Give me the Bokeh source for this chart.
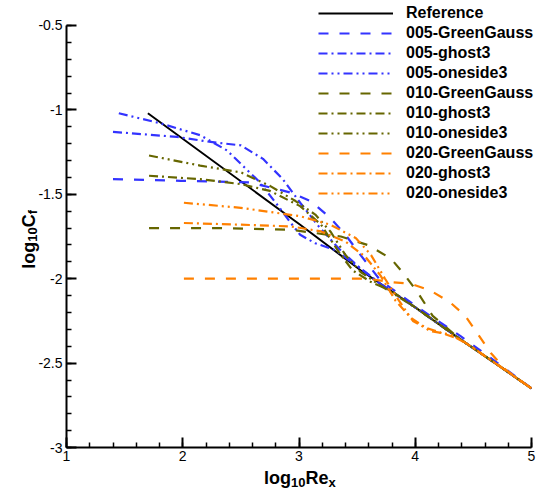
import math
from bokeh.plotting import figure
from bokeh.models import Range1d, Legend, LegendItem, Label, FixedTicker
from bokeh.embed import file_html
from bokeh.resources import INLINE

# ---------------- data ----------------
ref_x = [1.70, 3.01, 3.53, 4.00, 4.39, 5.00]
ref_y = [-1.02, -1.68, -1.95, -2.17, -2.36, -2.65]

gg005_x = [1.40, 1.98, 2.58, 2.93, 3.10, 3.27, 3.40, 3.53, 3.70, 4.00, 4.39, 4.73, 5.00]
gg005_y = [-1.41, -1.42, -1.43, -1.49, -1.54, -1.64, -1.74, -1.86, -2.01, -2.16, -2.34, -2.51, -2.65]

gh005_x = [1.40, 1.95, 2.24, 2.50, 2.69, 2.86, 3.01, 3.17, 3.34, 3.53, 3.70, 4.00, 4.39, 4.73, 5.00]
gh005_y = [-1.13, -1.16, -1.19, -1.21, -1.29, -1.41, -1.55, -1.69, -1.82, -1.94, -2.03, -2.17, -2.36, -2.52, -2.65]

os005_x = [1.45, 1.81, 2.15, 2.38, 2.50, 2.65, 2.80, 2.93, 3.01, 3.14, 3.31, 3.53, 3.70, 4.00, 4.39, 4.73, 5.00]
os005_y = [-1.02, -1.08, -1.15, -1.24, -1.32, -1.42, -1.55, -1.67, -1.74, -1.79, -1.83, -1.94, -2.03, -2.17, -2.36, -2.52, -2.65]

gg010_x = [1.71, 2.32, 2.93, 3.36, 3.59, 3.79, 3.90, 4.02, 4.15, 4.39, 4.73, 5.00]
gg010_y = [-1.70, -1.70, -1.71, -1.75, -1.80, -1.88, -1.97, -2.08, -2.22, -2.36, -2.52, -2.65]

gh010_x = [1.71, 2.15, 2.50, 2.75, 3.01, 3.19, 3.34, 3.46, 3.62, 3.79, 4.00, 4.39, 4.73, 5.00]
gh010_y = [-1.39, -1.41, -1.44, -1.48, -1.57, -1.68, -1.84, -1.95, -2.02, -2.07, -2.17, -2.36, -2.52, -2.65]

os010_x = [1.71, 2.15, 2.50, 2.75, 2.97, 3.14, 3.27, 3.40, 3.53, 3.70, 4.00, 4.39, 4.73, 5.00]
os010_y = [-1.27, -1.33, -1.37, -1.45, -1.54, -1.62, -1.72, -1.86, -1.96, -2.04, -2.17, -2.36, -2.52, -2.65]

gg020_x = [2.01, 3.01, 3.59, 3.79, 3.96, 4.13, 4.30, 4.43, 4.54, 4.65, 4.78, 5.00]
gg020_y = [-2.00, -2.00, -2.00, -2.02, -2.03, -2.07, -2.14, -2.22, -2.33, -2.44, -2.54, -2.65]

gh020_x = [2.01, 2.50, 2.93, 3.19, 3.40, 3.57, 3.70, 3.83, 3.96, 4.09, 4.22, 4.39, 4.73, 5.00]
gh020_y = [-1.67, -1.68, -1.69, -1.72, -1.78, -1.87, -1.98, -2.13, -2.23, -2.29, -2.32, -2.36, -2.52, -2.65]

os020_x = [2.01, 2.50, 3.01, 3.27, 3.49, 3.62, 3.74, 3.86, 3.98, 4.13, 4.30, 4.48, 4.73, 5.00]
os020_y = [-1.55, -1.58, -1.63, -1.68, -1.76, -1.86, -2.00, -2.13, -2.25, -2.31, -2.33, -2.40, -2.52, -2.65]

series_names = ["Reference", "005-GreenGauss", "005-ghost3", "005-oneside3",
                "010-GreenGauss", "010-ghost3", "010-oneside3",
                "020-GreenGauss", "020-ghost3", "020-oneside3"]

x_ticks = [1, 2, 3, 4, 5]
x_tick_labels = ["1", "2", "3", "4", "5"]
y_ticks = [-3, -2.5, -2, -1.5, -1, -0.5]
y_tick_labels = ["-3", "-2.5", "-2", "-1.5", "-1", "-0.5"]

# ---------------- styles ----------------
BLUE = "#3333ff"
OLIVE = "#666600"
ORANGE = "#ff8000"
DASH = "10 11"
DASHDOT = "9 4 2 4"
DASHDOTDOT = "9 4 2 4 2 4"
LW = 2.2

series = [
    (ref_x, ref_y, "black", "solid"),
    (gg005_x, gg005_y, BLUE, DASH),
    (gh005_x, gh005_y, BLUE, DASHDOT),
    (os005_x, os005_y, BLUE, DASHDOTDOT),
    (gg010_x, gg010_y, OLIVE, DASH),
    (gh010_x, gh010_y, OLIVE, DASHDOT),
    (os010_x, os010_y, OLIVE, DASHDOTDOT),
    (gg020_x, gg020_y, ORANGE, DASH),
    (gh020_x, gh020_y, ORANGE, DASHDOT),
    (os020_x, os020_y, ORANGE, DASHDOTDOT),
]

# frame covers the whole canvas; x=1 at px 66, x=5 at px 531; y=-0.5 at px 25, y=-3 at px 447
PX_PER_X = 116.25
PX_PER_Y = 169.0
x_start = 1 - 66 / PX_PER_X
x_end = 1 + (540 - 66) / PX_PER_X
y_start = -3 - (498 - 447) / PX_PER_Y
y_end = -0.5 + 25 / PX_PER_Y

p = figure(width=540, height=498, output_backend="svg", toolbar_location=None,
           x_range=Range1d(x_start, x_end), y_range=Range1d(y_start, y_end),
           min_border_left=0, min_border_right=0, min_border_top=0, min_border_bottom=0)
p.outline_line_color = None
p.grid.visible = False
p.background_fill_color = "white"

items = []
for name, (xs, ys, col, dash) in zip(series_names, series):
    r = p.line(xs, ys, line_color=col, line_width=LW if col != "black" else 2, line_dash=dash)
    items.append(LegendItem(label=name, renderers=[r]))

# axes, drawn at fixed data locations inside the frame
for ax in (p.xaxis[0], p.yaxis[0]):
    ax.axis_line_width = 2
    ax.axis_line_color = "black"
    ax.major_tick_in = 10
    ax.major_tick_out = 0
    ax.minor_tick_in = 5
    ax.minor_tick_out = 0
    ax.major_tick_line_width = 2
    ax.minor_tick_line_width = 1.5
    ax.major_label_text_font = "Liberation Sans"
    ax.major_label_text_font_size = "14px"
    ax.major_label_text_color = "black"

p.xaxis.fixed_location = -3
p.yaxis.fixed_location = 1
p.xaxis.ticker = FixedTicker(ticks=x_ticks, minor_ticks=[1 + 0.2 * i for i in range(21)])
p.yaxis.ticker = FixedTicker(ticks=y_ticks, minor_ticks=[-3 + 0.1 * i for i in range(26)])
p.xaxis.major_label_overrides = {t: l for t, l in zip(x_ticks, x_tick_labels)}
p.yaxis.major_label_overrides = {t: l for t, l in zip(y_ticks, y_tick_labels)}
p.xaxis.bounds = (1, 5)
p.yaxis.bounds = (-3, -0.5)
p.xaxis.major_label_standoff = 3
p.yaxis.major_label_standoff = 4


def cx2x(cx):
    return 1 + (cx - 66) / PX_PER_X


def cy2y(cy):
    return -3 + (447 - cy) / PX_PER_Y


def add_text(txt, cx, cy, size, angle=0.0):
    p.add_layout(Label(x=cx2x(cx), y=cy2y(cy), text=txt, text_font="Liberation Sans",
                       text_font_style="bold", text_font_size=f"{size}px",
                       text_align="left", text_baseline="alphabetic",
                       text_color="black", angle=angle))


# x axis title: log10 Re x
x0 = 263.5
add_text("log", x0, 477, 18)
add_text("10", x0 + 27.0, 482, 13)
add_text("Re", x0 + 41.5, 477, 18)
add_text("x", x0 + 64.5, 482, 13)

# y axis title (rotated): log10 C f
y0 = 268
add_text("log", 28, y0, 18, math.pi / 2)
add_text("10", 32, y0 - 27.0, 13, math.pi / 2)
add_text("C", 28, y0 - 41.5, 18, math.pi / 2)
add_text("f", 32, y0 - 54.5, 13, math.pi / 2)

# legend: first sample line starts at px 318, rows ~20 px apart from y ~3 to ~203
legend = Legend(items=items, location=(318, 498 - 203), padding=0, margin=0, spacing=0,
                glyph_width=75, glyph_height=20, label_height=20, label_standoff=13,
                background_fill_alpha=0, border_line_alpha=0,
                label_text_font="Liberation Sans", label_text_font_style="bold",
                label_text_font_size="16px", label_text_color="black")
p.add_layout(legend)

open("out.html", "w").write(file_html(p, INLINE))
